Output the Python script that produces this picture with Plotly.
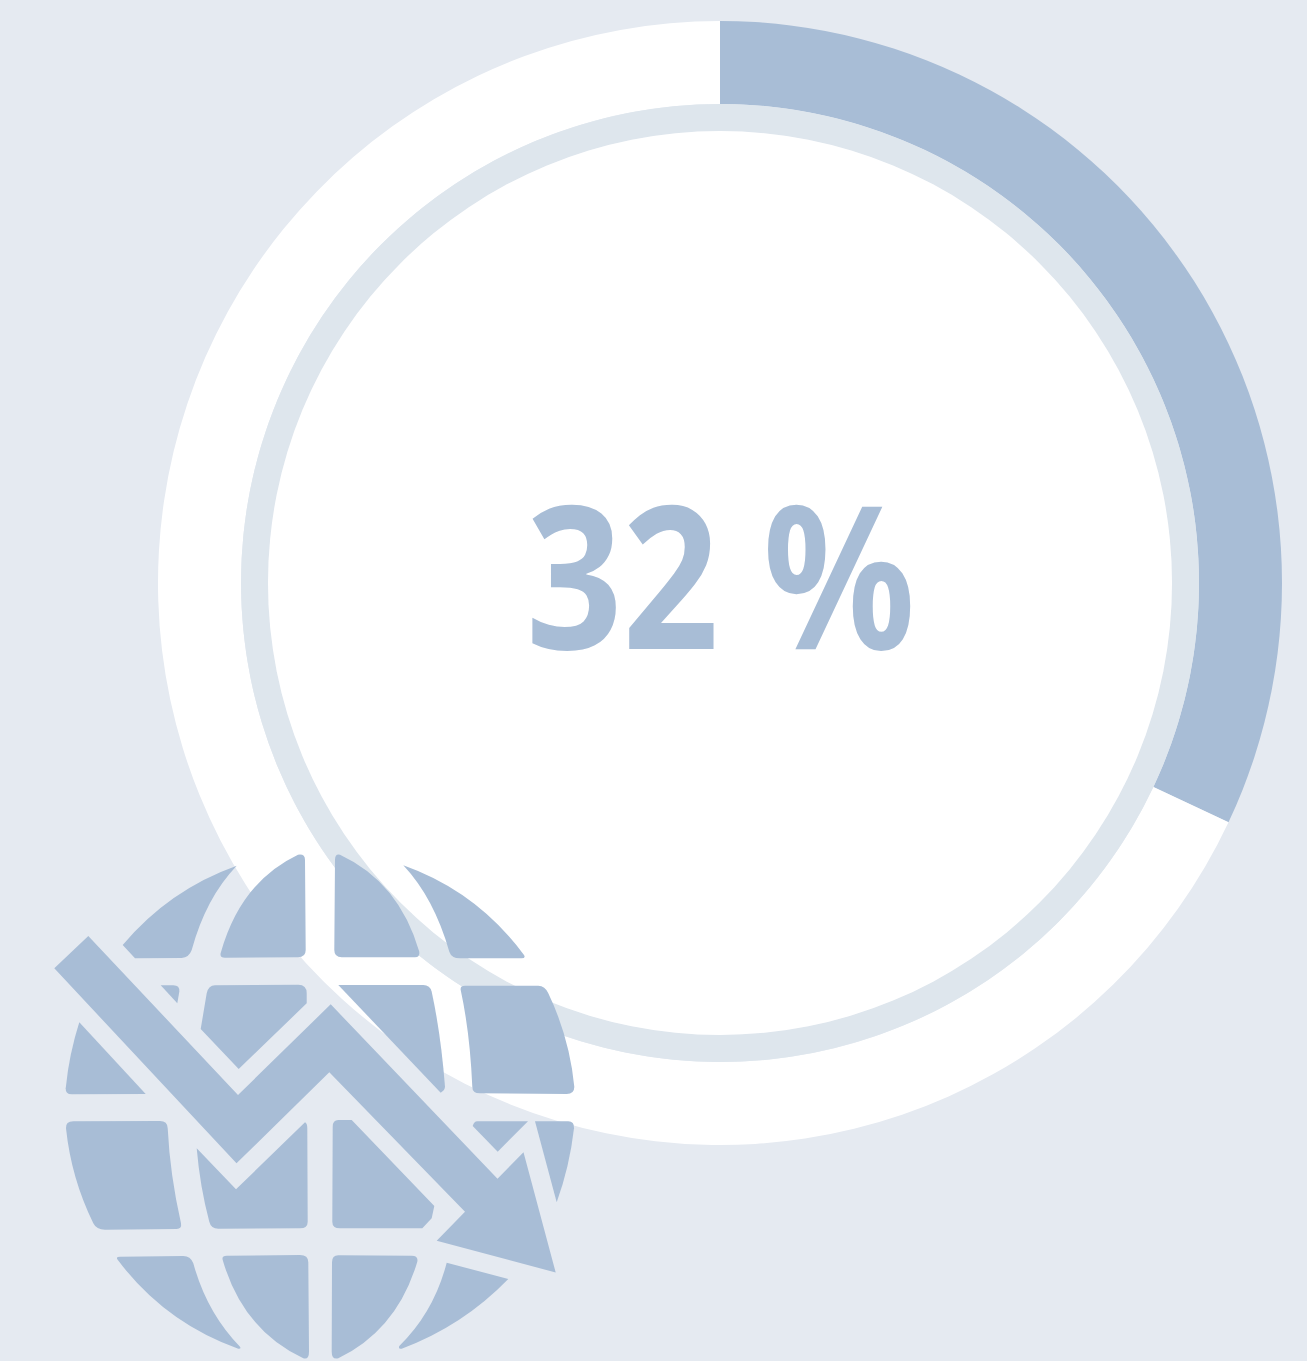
import plotly.graph_objects as go

W, H = 1307, 1361

# Data
categories = ["Share", "Remainder"]
values = [32, 68]
label = "32 %"

BLUE = "#a8bdd6"
PALE = "#dee6ed"
BG = "#e5eaf1"

# Decorative globe-with-falling-arrow icon (not data), pixel coordinates
GC = (320.0, 1106.5)
GR = 254.5

def arc(p0, p2):
    mx, my = (p0[0] + p2[0]) / 2, (p0[1] + p2[1]) / 2
    dx, dy = mx - GC[0], my - GC[1]
    k = GR * GR / (dx * dx + dy * dy)
    return (GC[0] + dx * k, GC[1] + dy * k)

def build(cmds):
    out, cur = [], None
    for c in cmds:
        if c[0] == "M":
            out.append(f"M{c[1]},{c[2]}"); cur = (c[1], c[2])
        elif c[0] == "L":
            out.append(f"L{c[1]},{c[2]}"); cur = (c[1], c[2])
        elif c[0] == "Q":
            out.append(f"Q{c[1]},{c[2]} {c[3]},{c[4]}"); cur = (c[3], c[4])
        elif c[0] == "A":
            p = (c[1], c[2]); k = arc(cur, p)
            out.append(f"Q{k[0]:.1f},{k[1]:.1f} {p[0]},{p[1]}"); cur = p
    return " ".join(out) + " Z"

ICON = [
    [("M",236.7,865.7),("A",122.7,945),("L",135,958.3),("L",181.7,958),("Q",189,957.5,191.7,950),("Q",205.8,898,236.7,865.7)],
    [("M",220.7,953),("Q",240.6,882,298,854.7),("Q",305,853.5,305,860),("L",305.7,950),("Q",305.7,957.3,298,957.3),("L",225,957.7),("Q",219.5,957.7,220.7,953)],
    [("M",160.7,985.3),("L",173.3,985.3),("Q",180,985.3,179.3,991.7),("L",177.3,1003.3)],
    [("M",215,985.3),("L",298.3,984.7),("Q",306.7,984.7,306.7,993.3),("L",306.7,1003.3),("L",238.7,1069),("L",200.7,1029),("L",206.7,993.3),("Q",208.5,985.3,215,985.3)],
    [("M",79.3,1022.3),("L",145.7,1094),("L",71.7,1094.3),("Q",65.4,1094.3,65.7,1088.3),("A",79.3,1022.3)],
    [("M",88.3,936),("L",238,1095),("L",330.7,1004.3),("L",497.5,1178.7),("L",523.5,1152.3),("L",555.7,1272.5),("L",436.7,1240.7),("L",465,1211.7),("L",329.3,1072.3),("L",236.5,1163.3),("L",54.3,968.3)],
    [("M",335,860),("Q",335,853.5,340,854.7),("Q",399,882,419.3,951.7),("Q",420,957.3,415,957.3),("L",341.7,957.3),("Q",334.3,957.3,334.3,950)],
    [("M",403.3,865.3),("A",524,955),("Q",526,958.3,521.7,958.3),("L",460,958.3),("Q",451.5,958.3,449.3,951.7),("Q",434,898,403.3,865.3)],
    [("M",338.3,985),("L",423.3,985),("Q",430,985,431.7,991.7),("Q",441,1035,445,1086.7),("Q",445,1090,440.7,1092.7)],
    [("M",460.7,990),("Q",460,985.7,465,985.7),("L",538.3,985.7),("Q",545,985.7,548.3,993.3),("A",574.3,1086.7),("Q",574.5,1094,566.7,1094),("L",480,1093.3),("Q",472.3,1093.3,472.3,1086.7),("Q",470,1033,460.7,990)],
    [("M",66,1128.3),("Q",65.5,1121.3,73.3,1121.3),("L",160,1121),("Q",167.5,1121,167.7,1128.3),("Q",170,1175,181,1223.3),("Q",182,1229,176.7,1229),("L",105,1229.7),("Q",96.5,1229.7,93.3,1223.3),("A",66,1128.3)],
    [("M",196.7,1148.3),("L",236,1189.3),("L",305,1122.3),("Q",307.3,1123.5,307.3,1128.3),("L",307.7,1221.7),("Q",307.7,1228.3,300,1228.3),("L",218.3,1228.7),("Q",211,1228.7,209.3,1221.7),("Q",200,1187,196.7,1148.3)],
    [("M",117.3,1259.3),("Q",116,1256.7,120,1256.7),("L",183.3,1256),("Q",190.5,1256,193.3,1263.3),("Q",207,1313,240,1346.7),("Q",241.5,1349,238.3,1348.7),("A",117.3,1259.3)],
    [("M",222.7,1260),("Q",221.5,1255.7,226.7,1255.7),("L",300,1255),("Q",308.3,1255,308.3,1262.3),("L",309,1351.7),("Q",309,1360,303.3,1358.3),("Q",243,1330,222.7,1260)],
    [("M",332.7,1126.7),("Q",332.7,1120,338.3,1120),("L",351.7,1120),("L",434.3,1206),("L",431.7,1218.3),("L",422.3,1228.3),("L",340,1228.3),("Q",332.3,1228.3,332.3,1221.7)],
    [("M",472.7,1126),("Q",474,1121.3,477.3,1121.3),("L",528,1121.3),("L",497.7,1151.7)],
    [("M",535,1121.3),("L",568.3,1121.3),("Q",574.3,1121.3,574,1128.3),("A",556.7,1202.3)],
    [("M",332,1262.3),("Q",332,1255.3,338.3,1255.3),("L",411.7,1255.7),("Q",418.5,1255.7,417.3,1261.7),("Q",397,1330,338.3,1358.3),("Q",331.7,1360,331.7,1351.7)],
    [("M",446.7,1262.7),("L",508.3,1279),("A",401.7,1348.7),("Q",398,1349.5,399.3,1346),("Q",434,1312,446.7,1262.7)],
]

def dom(x0, x1, y0, y1):
    return dict(x=[x0 / W, x1 / W], y=[(H - y1) / H, (H - y0) / H])

CX, CY = 720, 583
def circ(r):
    return dom(CX - r, CX + r, CY - r, CY + r)

fig = go.Figure()
common = dict(sort=False, direction="clockwise", rotation=0, textinfo="none",
              hoverinfo="skip", showlegend=False)
fig.add_trace(go.Pie(labels=categories, values=values, hole=479 / 562, domain=circ(562),
                     marker=dict(colors=[BLUE, "#ffffff"], line=dict(width=0)), **common))
fig.add_trace(go.Pie(labels=["Ring"], values=[1], hole=452 / 479, domain=circ(479),
                     marker=dict(colors=[PALE], line=dict(width=0)), **common))
fig.add_trace(go.Pie(labels=["Centre"], values=[1], domain=circ(452),
                     marker=dict(colors=["#ffffff"], line=dict(width=0)), **common))

fig.update_layout(
    width=W, height=H, autosize=False,
    margin=dict(l=0, r=0, t=0, b=0),
    paper_bgcolor=BG, plot_bgcolor=BG,
    xaxis=dict(visible=False, range=[0, W], domain=[0, 1], fixedrange=True),
    yaxis=dict(visible=False, range=[H, 0], domain=[0, 1], fixedrange=True),
    shapes=[dict(type="path", xref="x", yref="y", path=build(p), fillcolor=BLUE,
                 line=dict(width=0), layer="above") for p in ICON],
    annotations=[dict(x=720, y=571, xref="x", yref="y", text=f"<b>{label}</b>", showarrow=False,
                      xanchor="center", yanchor="middle",
                      font=dict(family="Noto Sans, sans-serif", size=200, color=BLUE))],
)
fig.add_trace(go.Scatter(x=[0], y=[0], mode="markers", marker=dict(opacity=0), hoverinfo="skip", showlegend=False))

POST = """
document.body.style.margin = '0';
document.documentElement.style.overflow = 'hidden';
document.querySelectorAll('.annotation-text').forEach(function (t) {
  t.style.transformBox = 'fill-box';
  t.style.transformOrigin = 'center';
  t.style.transform = 'scaleX(0.844)';
});
"""
fig.write_html("out.html", config=dict(displayModeBar=False), post_script=POST)
